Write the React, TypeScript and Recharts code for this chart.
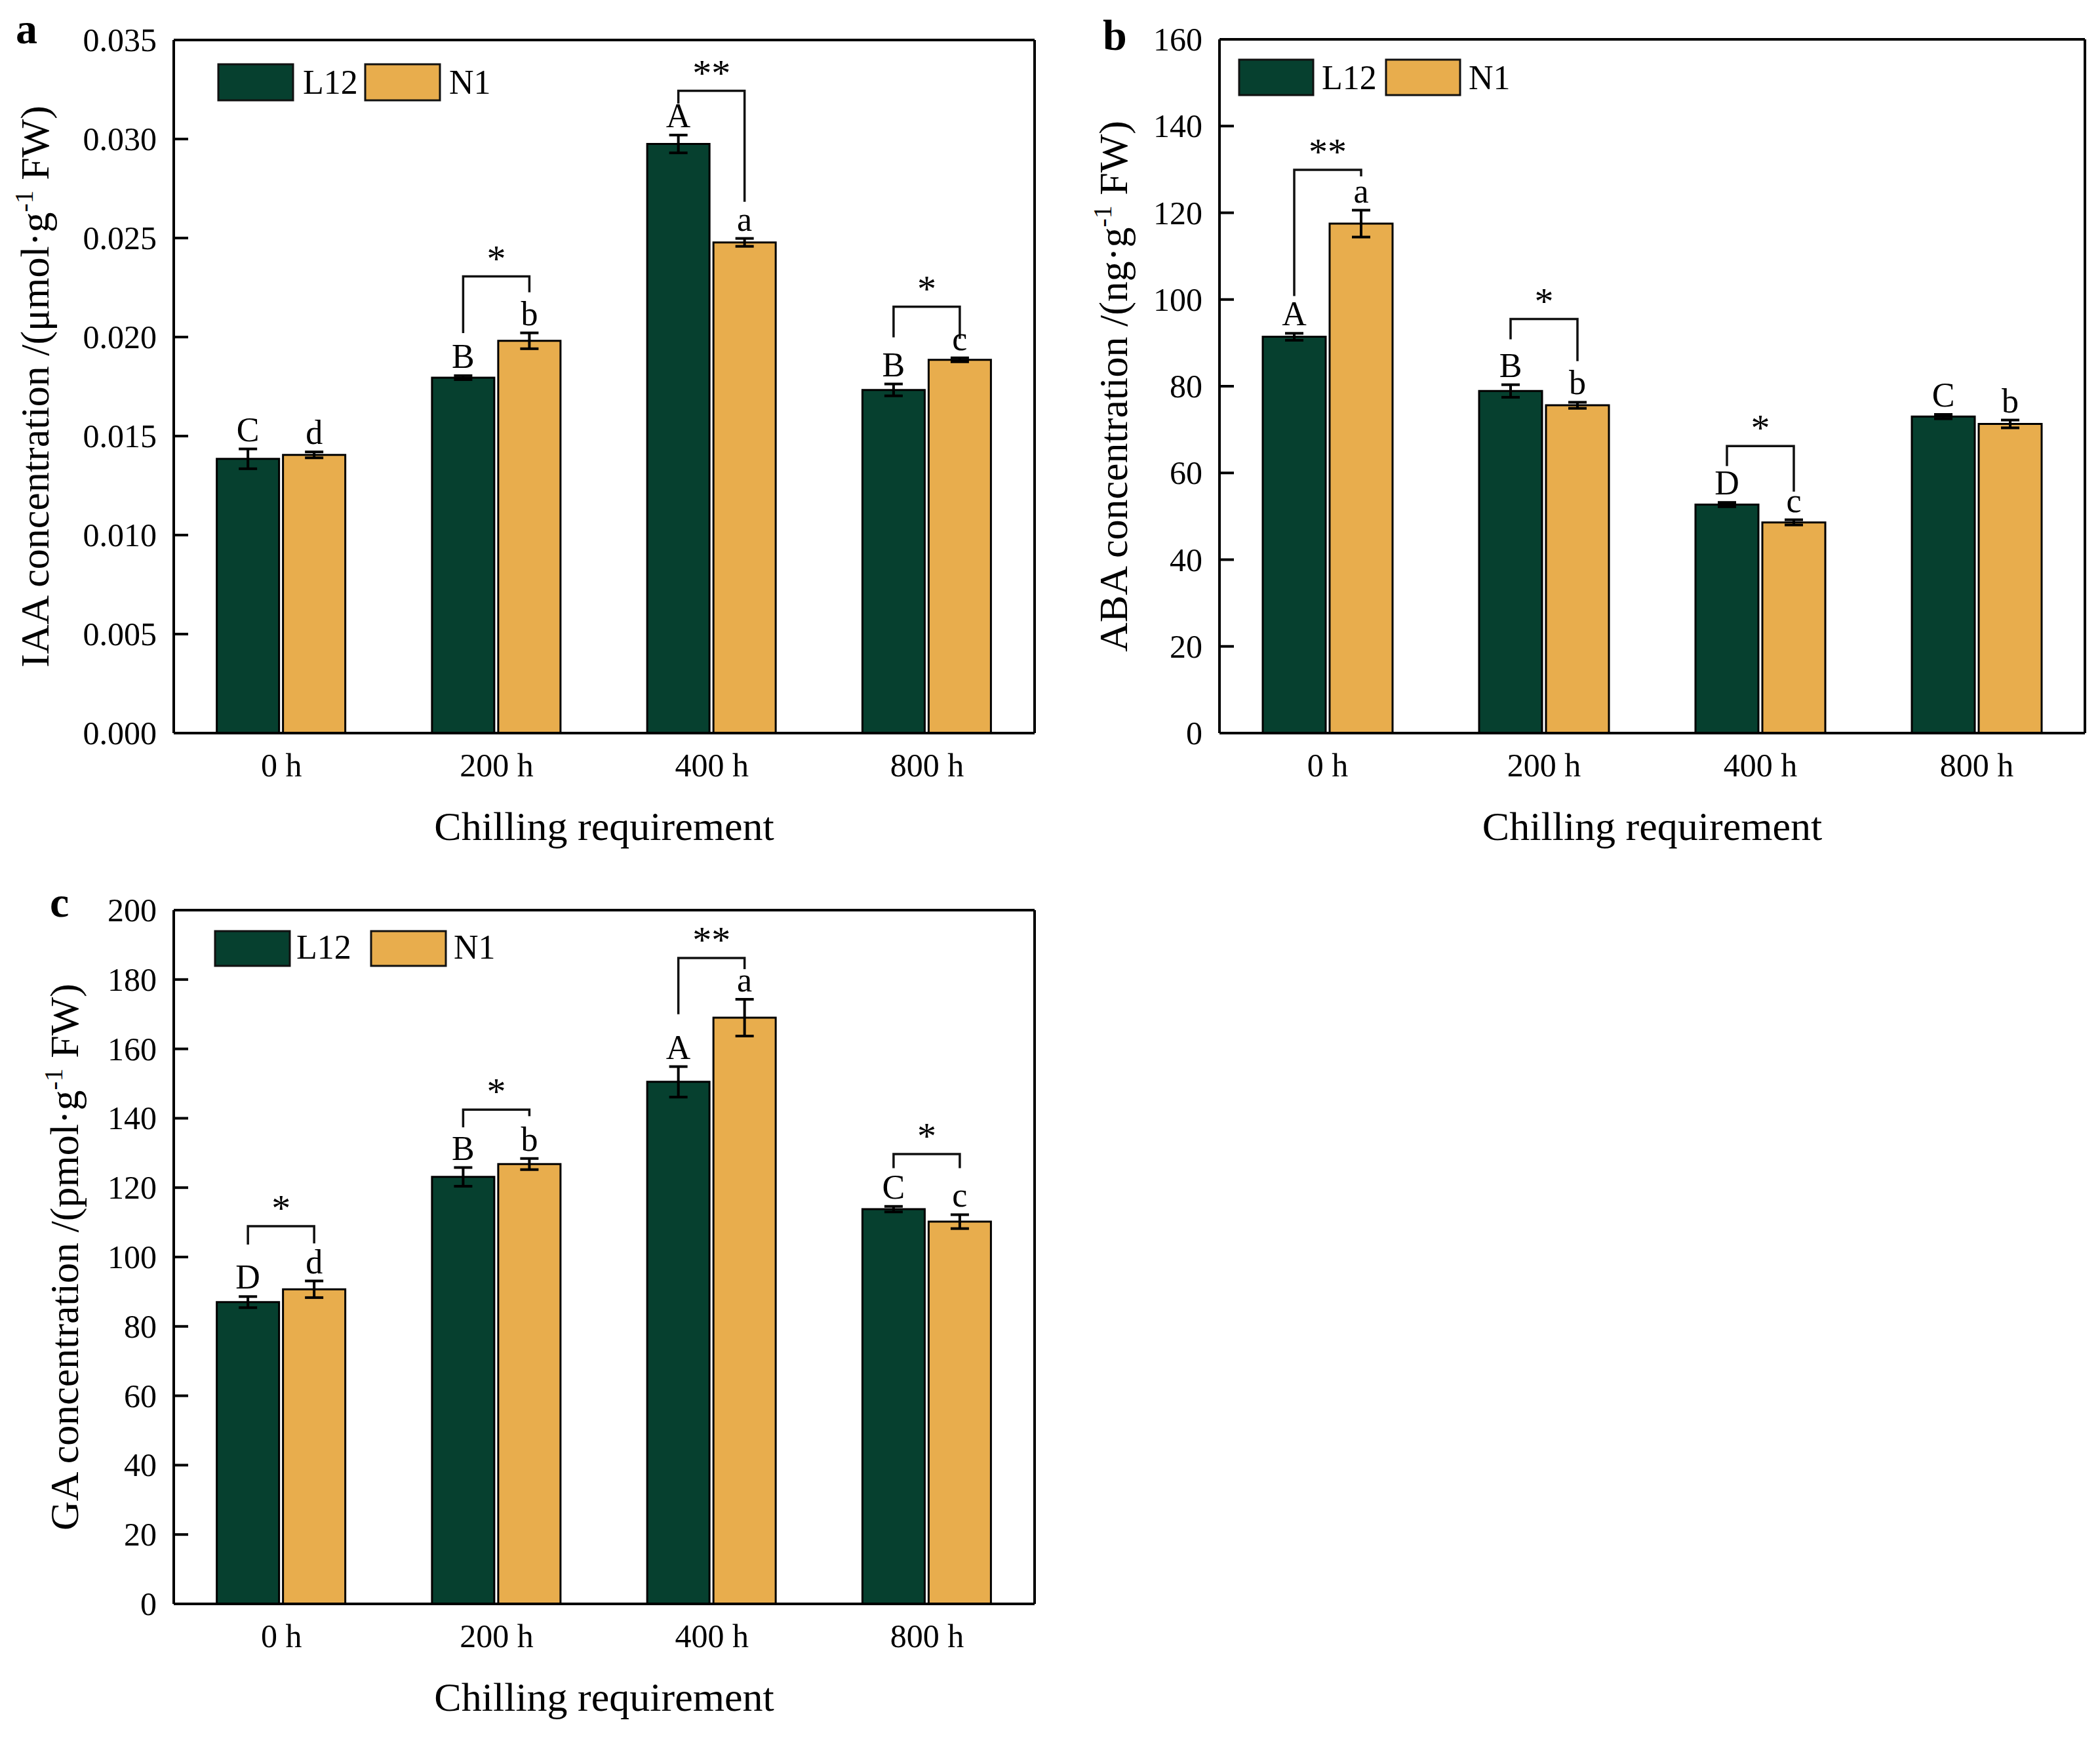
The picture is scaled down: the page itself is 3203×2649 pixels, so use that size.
import React from "react";
import { BarChart, Bar, XAxis, YAxis, ErrorBar, LabelList } from "recharts";

const FONT = '"Liberation Serif", "Times New Roman", serif';
const GREEN = "#06402F";
const ORANGE = "#E8AD4D";
const GAP = 6;

const hours = ["0 h", "200 h", "400 h", "800 h"];

// a - IAA
const iaaL12 = [0.01385, 0.01795, 0.02975, 0.01733];
const iaaL12Err = [0.0005, 0.0001, 0.00045, 0.0003];
const iaaN1 = [0.01405, 0.01981, 0.02478, 0.01885];
const iaaN1Err = [0.00015, 0.0004, 0.0002, 0.0001];
const iaaL12Letters = ["C", "B", "A", "B"];
const iaaN1Letters = ["d", "b", "a", "c"];
const iaaMarks = ["", "*", "**", "*"];
const iaaBracketTop = [0, 0.02306, 0.03243, 0.02153];
const iaaBracketLeft = [0, 0.0202, 0.03179, 0.01998];
const iaaBracketRight = [0, 0.02226, 0.02683, 0.01991];
const iaaTicks = [0, 0.005, 0.01, 0.015, 0.02, 0.025, 0.03, 0.035];

// b - ABA
const abaL12 = [91.4, 78.9, 52.7, 73.0];
const abaL12Err = [0.8, 1.45, 0.5, 0.5];
const abaN1 = [117.5, 75.6, 48.6, 71.3];
const abaN1Err = [3.1, 0.7, 0.6, 0.9];
const abaL12Letters = ["A", "B", "D", "C"];
const abaN1Letters = ["a", "b", "c", "b"];
const abaMarks = ["**", "*", "*", ""];
const abaBracketTop = [129.9, 95.5, 66.2, 0];
const abaBracketLeft = [100.8, 90.8, 61.6, 0];
const abaBracketRight = [128.4, 85.8, 55.7, 0];
const abaTicks = [0, 20, 40, 60, 80, 100, 120, 140, 160];

// c - GA
const gaL12 = [87.0, 123.1, 150.5, 113.8];
const gaL12Err = [1.6, 2.7, 4.4, 0.8];
const gaN1 = [90.7, 126.8, 169.0, 110.2];
const gaN1Err = [2.4, 1.6, 5.3, 2.0];
const gaL12Letters = ["D", "B", "A", "C"];
const gaN1Letters = ["d", "b", "a", "c"];
const gaMarks = ["*", "*", "**", "*"];
const gaBracketTop = [108.9, 142.5, 186.2, 129.7];
const gaBracketLeft = [103.6, 137.4, 170.0, 125.6];
const gaBracketRight = [103.9, 140.6, 183.0, 125.6];
const gaTicks = [0, 20, 40, 60, 80, 100, 120, 140, 160, 180, 200];

function box(p: any) {
  const v = p.viewBox ?? p;
  return { x: Number(v.x), y: Number(v.y), width: Number(v.width), height: Number(v.height) };
}

function Panel(props: any) {
  const {
    left, top, width, height, margin, l12, l12Err, n1, n1Err,
    l12Letters, n1Letters, marks, bracketTop, bracketLeft, bracketRight,
    ticks, digits, titleMain, titleX,
  } = props;

  const rows = hours.map((h, i) => ({
    hour: h,
    idx: i,
    l12: l12[i],
    l12Err: l12Err[i],
    n1: n1[i],
    n1Err: n1Err[i],
  }));

  const l12Label = (p: any) => {
    const i = typeof p.index === "number" ? p.index : Number(p.value);
    const { x, y, width: w, height: hgt } = box(p);
    const k = hgt / l12[i];
    const base = y + hgt;
    const cx = x + w / 2;
    const errTop = y - l12Err[i] * k;
    const out: any[] = [
      <text key="l" x={cx} y={errTop - 12} textAnchor="middle" fontFamily={FONT} fontSize={52} fill="#000">
        {l12Letters[i]}
      </text>,
    ];
    if (marks[i]) {
      const xR = x + w * 1.5 + GAP;
      const yT = base - bracketTop[i] * k;
      const yL = base - bracketLeft[i] * k;
      const yR = base - bracketRight[i] * k;
      out.push(
        <path key="b" d={`M${cx},${yL}V${yT}H${xR}V${yR}`} fill="none" stroke="#111" strokeWidth={3.5} />,
        <text key="s" x={(cx + xR) / 2} y={yT - 8} textAnchor="middle" fontFamily={FONT} fontSize={58} fill="#000">
          {marks[i]}
        </text>
      );
    }
    return <g>{out}</g>;
  };

  const n1Label = (p: any) => {
    const i = typeof p.index === "number" ? p.index : Number(p.value);
    const { x, y, width: w, height: hgt } = box(p);
    const k = hgt / n1[i];
    const errTop = y - n1Err[i] * k;
    return (
      <text x={x + w / 2} y={errTop - 12} textAnchor="middle" fontFamily={FONT} fontSize={52} fill="#000">
        {n1Letters[i]}
      </text>
    );
  };

  const yTick = (p: any) => (
    <g>
      <line x1={p.x + 26} x2={p.x + 48} y1={p.y} y2={p.y} stroke="#000" strokeWidth={4} />
      <text x={p.x} y={p.y} dy="0.34em" textAnchor="end" fontFamily={FONT} fontSize={50} fill="#000">
        {Number(p.payload.value).toFixed(digits)}
      </text>
    </g>
  );

  const xTick = (p: any) => (
    <text x={p.x} y={p.y + 66} textAnchor="middle" fontFamily={FONT} fontSize={50} fill="#000">
      {p.payload.value}
    </text>
  );

  // frame axes take 1px each (top and right)
  const m = { ...margin, top: margin.top - 1, right: margin.right - 1 };
  const plotTop = margin.top;
  const plotBottom = height - margin.bottom - 180;
  const plotLeft = margin.left + 180;
  const plotRight = width - margin.right;

  const yTitle = (p: any) => {
    const v = p && p.viewBox && p.viewBox.height ? p.viewBox : null;
    const cy = v ? v.y + v.height / 2 : (plotTop + plotBottom) / 2;
    return (
      <text
        x={titleX}
        y={cy}
        transform={`rotate(-90, ${titleX}, ${cy})`}
        textAnchor="middle"
        fontFamily={FONT}
        fontSize={62}
        fill="#000"
      >
        <tspan>{titleMain}</tspan>
        <tspan dy={-24} fontSize={40}>-1</tspan>
        <tspan dy={24}> FW)</tspan>
      </text>
    );
  };

  const xTitle = () => (
    <text
      x={(plotLeft + plotRight) / 2}
      y={plotBottom + 163}
      textAnchor="middle"
      fontFamily={FONT}
      fontSize={62}
      fill="#000"
    >
      Chilling requirement
    </text>
  );

  const domain = [ticks[0], ticks[ticks.length - 1]];
  const frame = { stroke: "#000", strokeWidth: 4 };

  return (
    <div style={{ position: "absolute", left, top, width, height }}>
      <BarChart
        width={width}
        height={height}
        data={rows}
        margin={m}
        barCategoryGap="20%"
        barGap={GAP}
      >
        <XAxis
          dataKey="hour"
          height={180}
          axisLine={frame}
          tickLine={false}
          tickSize={0}
          tickMargin={0}
          interval={0}
          tick={xTick}
          label={xTitle}
        />
        <XAxis
          xAxisId="top"
          dataKey="hour"
          orientation="top"
          height={1}
          tick={false}
          tickLine={false}
          axisLine={frame}
        />
        <YAxis
          width={180}
          domain={domain}
          ticks={ticks}
          interval={0}
          axisLine={frame}
          tickLine={false}
          tickSize={0}
          tickMargin={26}
          tick={yTick}
          label={yTitle}
        />
        <YAxis
          yAxisId="right"
          orientation="right"
          width={1}
          domain={domain}
          tick={false}
          tickLine={false}
          axisLine={frame}
        />
        <Bar dataKey="l12" fill={GREEN} stroke="#000" strokeWidth={3} isAnimationActive={false}>
          <ErrorBar dataKey="l12Err" width={14} stroke="#000" strokeWidth={4} isAnimationActive={false} />
          <LabelList dataKey="idx" content={l12Label} />
        </Bar>
        <Bar dataKey="n1" fill={ORANGE} stroke="#000" strokeWidth={3} isAnimationActive={false}>
          <ErrorBar dataKey="n1Err" width={14} stroke="#000" strokeWidth={4} isAnimationActive={false} />
          <LabelList dataKey="idx" content={n1Label} />
        </Bar>
      </BarChart>
    </div>
  );
}

function Swatches({ x1, x2, y, w, h, t1, t2, base }: any) {
  return (
    <g fontFamily={FONT} fontSize={52} fill="#000">
      <rect x={x1} y={y} width={w} height={h} fill={GREEN} stroke="#111" strokeWidth={3} />
      <text x={t1} y={base}>L12</text>
      <rect x={x2} y={y} width={w} height={h} fill={ORANGE} stroke="#111" strokeWidth={3} />
      <text x={t2} y={base}>N1</text>
    </g>
  );
}

export default function App() {
  return (
    <div style={{ position: "absolute", left: 0, top: 0, width: 3203, height: 2649, background: "#fff" }}>
      <Panel
        left={0}
        top={0}
        width={1620}
        height={1320}
        margin={{ top: 61, right: 42, bottom: 22, left: 85 }}
        l12={iaaL12}
        l12Err={iaaL12Err}
        n1={iaaN1}
        n1Err={iaaN1Err}
        l12Letters={iaaL12Letters}
        n1Letters={iaaN1Letters}
        marks={iaaMarks}
        bracketTop={iaaBracketTop}
        bracketLeft={iaaBracketLeft}
        bracketRight={iaaBracketRight}
        ticks={iaaTicks}
        digits={3}
        titleMain="IAA concentration /(μmol·g"
        titleX={74}
      />
      <Panel
        left={1600}
        top={0}
        width={1603}
        height={1320}
        margin={{ top: 60, right: 23, bottom: 22, left: 80 }}
        l12={abaL12}
        l12Err={abaL12Err}
        n1={abaN1}
        n1Err={abaN1Err}
        l12Letters={abaL12Letters}
        n1Letters={abaN1Letters}
        marks={abaMarks}
        bracketTop={abaBracketTop}
        bracketLeft={abaBracketLeft}
        bracketRight={abaBracketRight}
        ticks={abaTicks}
        digits={0}
        titleMain="ABA concentration /(ng·g"
        titleX={119}
      />
      <Panel
        left={0}
        top={1300}
        width={1620}
        height={1349}
        margin={{ top: 88, right: 42, bottom: 23, left: 85 }}
        l12={gaL12}
        l12Err={gaL12Err}
        n1={gaN1}
        n1Err={gaN1Err}
        l12Letters={gaL12Letters}
        n1Letters={gaN1Letters}
        marks={gaMarks}
        bracketTop={gaBracketTop}
        bracketLeft={gaBracketLeft}
        bracketRight={gaBracketRight}
        ticks={gaTicks}
        digits={0}
        titleMain="GA concentration /(pmol·g"
        titleX={119}
      />
      <svg
        width={3203}
        height={2649}
        style={{ position: "absolute", left: 0, top: 0, pointerEvents: "none" }}
      >
        <g fontFamily={FONT} fontSize={66} fontWeight="bold" fill="#000">
          <text x={24} y={66}>a</text>
          <text x={1682} y={76}>b</text>
          <text x={76} y={1398}>c</text>
        </g>
        <Swatches x1={333} x2={557} y={98} w={114} h={55} t1={462} t2={685} base={143} />
        <Swatches x1={1890} x2={2114} y={91} w={113} h={54} t1={2016} t2={2240} base={136} />
        <Swatches x1={328} x2={566} y={1420} w={114} h={53} t1={452} t2={692} base={1462} />
      </svg>
    </div>
  );
}
